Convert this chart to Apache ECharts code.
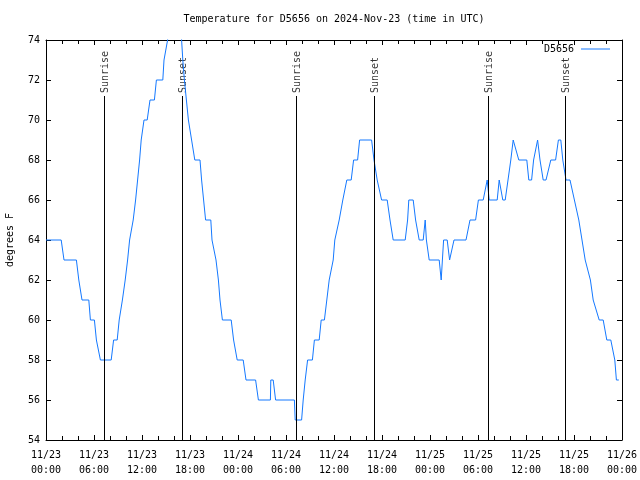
<!DOCTYPE html>
<html><head><meta charset="utf-8">
<script src="https://cdn.jsdelivr.net/npm/echarts@6/dist/echarts.min.js"></script>
<style>html,body{margin:0;padding:0;background:#fff}#c{width:640px;height:480px}</style>
</head><body><div id="c"></div>
<script>
// hours since 2024-11-23 00:00 UTC
const hours = [0,1.9,2.25,3.8,4.1,4.3,4.5,5.35,5.55,6.05,6.3,6.5,6.8,8.15,8.45,8.9,9.15,9.3,9.55,9.7,9.9,10.0,10.2,10.3,10.45,10.6,10.9,11.05,11.2,11.3,11.45,11.6,11.7,11.8,11.9,12.05,12.25,12.65,13.0,13.55,13.8,14.6,14.75,14.95,15.2,15.4,16.75,16.95,17.1,17.3,17.55,17.8,18.0,18.2,18.3,18.6,19.25,19.45,19.7,19.95,20.6,20.75,20.9,21.25,21.55,21.75,22.05,23.15,23.45,23.9,24.65,25.0,26.2,26.55,28.05,28.1,28.4,28.7,31.05,31.15,31.95,32.15,32.4,32.7,33.3,33.55,34.15,34.4,34.8,35.1,35.4,35.9,36.1,36.35,36.65,36.85,37.1,37.3,37.6,38.15,38.45,38.95,39.2,40.7,41.0,41.2,41.4,41.95,42.65,43.0,43.1,43.4,44.9,45.2,45.35,45.9,46.2,46.35,46.65,47.15,47.4,47.55,47.9,49.15,49.4,49.7,50.15,50.45,50.6,51.0,52.5,53.0,53.7,54.05,54.65,55.15,55.4,56.4,56.65,57.1,57.4,57.75,58.1,58.4,58.65,59.1,60.1,60.35,60.7,60.95,61.45,61.75,62.15,62.5,63.1,63.7,64.05,64.35,64.6,65.0,65.5,66.05,66.6,67.0,67.4,68.05,68.4,69.15,69.65,70.1,70.6,71.1,71.3,71.6];
const temps = [64,64,63,63,62,62,61,61,60,60,59,59,58,58,59,59,60,60,61,61,62,62,63,63,64,64,65,65,66,66,67,67,68,68,69,69,70,70,71,71,72,72,73,73,74,75,75,74,73,72,71,70,70,69,69,68,68,67,66,65,65,64,64,63,62,61,60,60,59,58,58,57,57,56,56,57,57,56,56,55,55,56,57,58,58,59,59,60,60,61,62,63,64,64,65,65,66,66,67,67,68,68,69,69,68,68,67,66,66,65,65,64,64,65,66,66,65,65,64,64,65,64,63,63,62,64,64,63,63,64,64,65,65,66,66,67,66,66,67,66,66,67,68,69,69,68,68,67,67,68,69,68,67,67,68,68,69,69,68,67,67,66,65,64,63,62,61,60,60,59,59,58,57,57];
const sunHours = [7.3, 17.03, 31.28, 41.05, 55.28, 64.93];
const sunNames = ['Sunrise','Sunset','Sunrise','Sunset','Sunrise','Sunset'];
const seriesName = 'D5656';
const titleText = 'Temperature for D5656 on 2024-Nov-23 (time in UTC)';
const yName = 'degrees F';

const T0 = Date.UTC(2024, 10, 23);
const H = 3600000;
const FONT = 'DejaVu Sans Mono';
const BLUE = '#1478ff';
const pad = n => (n < 10 ? '0' : '') + n;
const fmtX = v => { const d = new Date(v); return pad(d.getUTCMonth()+1)+'/'+pad(d.getUTCDate())+'\n'+pad(d.getUTCHours())+':'+pad(d.getUTCMinutes()); };

const lineData = hours.map((h, i) => [T0 + h*H, temps[i]]);
const sunLines = sunHours.map(h => [{coord:[T0+h*H, 71.2]}, {coord:[T0+h*H, 54]}]);
const sunLabels = sunHours.map((h, i) => ({value:[T0+h*H, 71.35], name: sunNames[i]}));

const xCommon = {
  type:'value', min:T0, max:T0+72*H, interval:6*H,
  axisLine:{show:true, lineStyle:{color:'#000', width:1}},
  axisTick:{show:true, inside:true, length:5, lineStyle:{color:'#000'}},
  minorTick:{show:true, splitNumber:3, length:4, lineStyle:{color:'#000'}},
  splitLine:{show:false}
};
const yCommon = {
  type:'value', min:54, max:74, interval:2,
  axisLine:{show:true, lineStyle:{color:'#000', width:1}},
  axisTick:{show:true, inside:true, length:5, lineStyle:{color:'#000'}},
  splitLine:{show:false}
};

const chart = echarts.init(document.getElementById('c'), null, {renderer:'canvas'});
chart.setOption({
  animation:false,
  backgroundColor:'#fff',
  title:{text:titleText, left:334, textAlign:'center', top:14, padding:0,
    textStyle:{fontFamily:FONT, fontSize:10, fontWeight:'normal', color:'#000'}},
  legend:{data:[{name:seriesName, icon:'rect'}], right:30, top:44, padding:0, align:'right', itemWidth:29, itemHeight:1, itemGap:4,
    textStyle:{fontFamily:FONT, fontSize:10, color:'#000', padding:[0,2,0,0]}},
  grid:{left:46, right:18, top:40, bottom:40, containLabel:false, outerBoundsMode:'none'},
  xAxis:[
    Object.assign({}, xCommon, {position:'bottom',
      axisLabel:{show:true, formatter:fmtX, fontFamily:FONT, fontSize:10, color:'#000', lineHeight:15, margin:8}}),
    Object.assign({}, xCommon, {position:'top', axisLabel:{show:false}})
  ],
  yAxis:[
    Object.assign({}, yCommon, {position:'left', name:yName, nameLocation:'middle', nameGap:31, nameRotate:90,
      nameTextStyle:{fontFamily:FONT, fontSize:10, color:'#000'},
      axisLabel:{fontFamily:FONT, fontSize:10, color:'#000', margin:6}}),
    Object.assign({}, yCommon, {position:'right', axisLabel:{show:false}})
  ],
  series:[
    {name:seriesName, type:'line', data:lineData, showSymbol:false, symbol:'none', clip:true,
      lineStyle:{color:BLUE, width:1}, itemStyle:{color:BLUE},
      markLine:{silent:true, symbol:['none','none'], animation:false,
        lineStyle:{color:'#000', width:1, type:'solid'}, label:{show:false},
        data:sunLines}},
    {name:'sun', type:'scatter', data:sunLabels, symbolSize:0, silent:true,
      label:{show:true, formatter:p=>p.name, rotate:90, position:[1,0], align:'left', verticalAlign:'middle',
        fontFamily:FONT, fontSize:10, color:'#000'}}
  ]
});
</script></body></html>
